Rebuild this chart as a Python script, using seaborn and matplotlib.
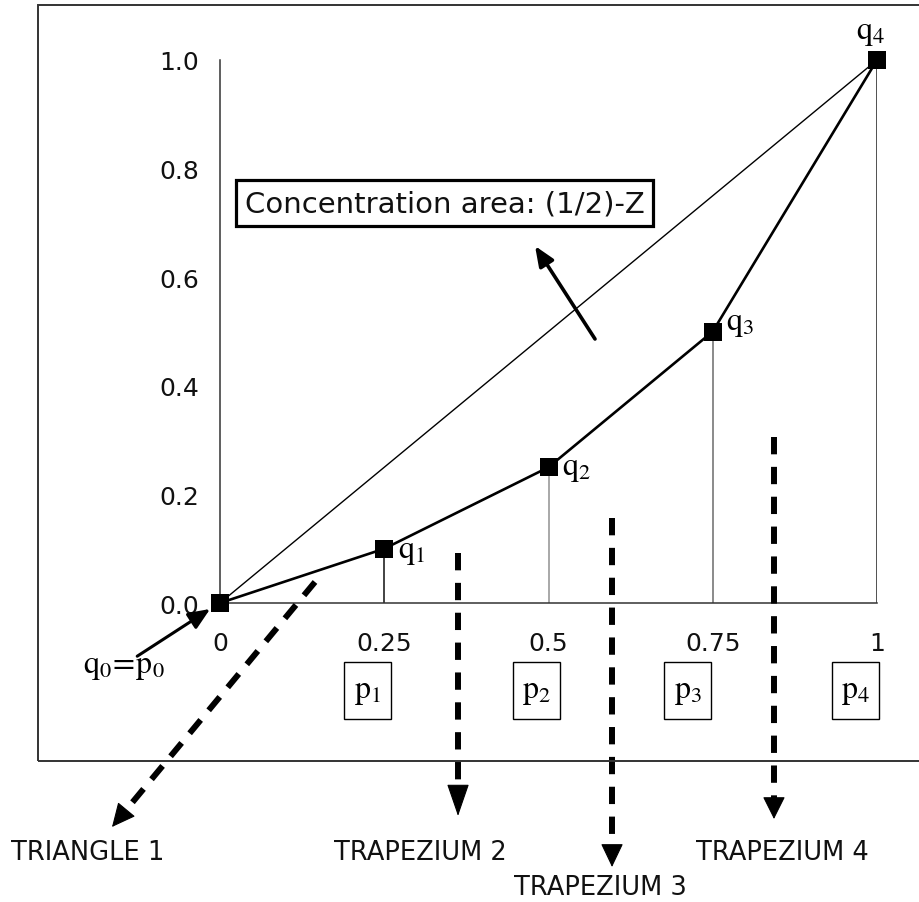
import numpy as np
import pandas as pd
import matplotlib
matplotlib.use("Agg")
import matplotlib.pyplot as plt
import seaborn as sns
from matplotlib.patches import Rectangle

# ---------------- data ----------------
p_cum = [0.0, 0.25, 0.5, 0.75, 1.0]          # cumulative population share
q_cum = [0.0, 0.10, 0.25, 0.50, 1.0]         # cumulative income share
x_ticks = [0.0, 0.25, 0.5, 0.75, 1.0]
x_tick_labels = ["0", "0.25", "0.5", "0.75", "1"]
y_ticks = [0.0, 0.2, 0.4, 0.6, 0.8, 1.0]
y_tick_labels = ["0.0", "0.2", "0.4", "0.6", "0.8", "1.0"]
q_labels = [r"$\mathrm{q}_1$", r"$\mathrm{q}_2$", r"$\mathrm{q}_3$", r"$\mathrm{q}_4$"]
p_labels = [r"$\mathrm{p}_1$", r"$\mathrm{p}_2$", r"$\mathrm{p}_3$", r"$\mathrm{p}_4$"]
origin_label = r"$\mathrm{q}_0\!=\!\mathrm{p}_0$"
area_labels = ["TRIANGLE 1", "TRAPEZIUM 2", "TRAPEZIUM 3", "TRAPEZIUM 4"]
concentration_text = "Concentration area: (1/2)-Z"

# ---------------- style ----------------
sns.set_theme(style="white")
plt.rcParams["font.family"] = ["DejaVu Sans"]
plt.rcParams["mathtext.fontset"] = "stix"

W, H = 919, 903
fig = plt.figure(figsize=(W / 100, H / 100), dpi=100)
fig.patch.set_facecolor("white")

# axes: x=0 at px 220, x=1 at px 877 ; y=0 at px 604, y=1 at px 61
ax = fig.add_axes([220 / W, 1 - 604 / H, 657 / W, 543 / H])
ax.set_facecolor("white")

df = pd.DataFrame({"p": p_cum, "q": q_cum})
eq = pd.DataFrame({"p": [p_cum[0], p_cum[-1]], "q": [p_cum[0], p_cum[-1]]})

# line of equality
sns.lineplot(data=eq, x="p", y="q", ax=ax, color="black", lw=1.0, zorder=3)
# Lorenz curve
sns.lineplot(data=df, x="p", y="q", ax=ax, color="black", lw=1.9,
             marker="s", markersize=12.5, markeredgewidth=0, zorder=6,
             clip_on=False)

# vertical drop lines
drop_colors = ["#222222", "#999999", "#777777", "#333333"]
ax.vlines(p_cum[1:], 0, q_cum[1:], colors=drop_colors, lw=1.2, zorder=2)

ax.set_xlim(0, 1)
ax.set_ylim(0, 1)
ax.set_xlabel("")
ax.set_ylabel("")
ax.set_xticks(x_ticks)
ax.set_xticklabels(x_tick_labels)
ax.set_yticks(y_ticks)
ax.set_yticklabels(y_tick_labels)
ax.tick_params(axis="both", which="both", direction="out", color="#333333",
               width=1.1, labelsize=18, labelcolor="#111111")
ax.tick_params(axis="x", length=6.5, pad=14)
ax.tick_params(axis="y", length=5.8, pad=9)
for s in ["top", "right"]:
    ax.spines[s].set_visible(False)
for s in ["left", "bottom"]:
    ax.spines[s].set_color("#333333")
    ax.spines[s].set_linewidth(1.1)

# q labels next to points (offsets in points)
q_offsets = [(10, -1.5), (9.5, 0), (9.5, 6.5), (-4.5, 20.5)]
q_ha = ["left", "left", "left", "center"]
for x, y, lab, off, ha in zip(p_cum[1:], q_cum[1:], q_labels, q_offsets, q_ha):
    ax.annotate(lab, xy=(x, y), xytext=off, textcoords="offset points",
                ha=ha, va="center", fontsize=23, color="black",
                annotation_clip=False, zorder=7)

# p labels in boxes below the axis
p_box_offsets = [-0.026, -0.019, -0.038, -0.032]
box_w, box_h = 47 / 657, 57 / 543
box_y = -0.162
for x, lab, dx in zip(p_cum[1:], p_labels, p_box_offsets):
    cx = x + dx
    ax.text(cx, box_y, lab, ha="center", va="center", fontsize=23,
            color="black", clip_on=False)
    ax.add_patch(Rectangle((cx - box_w / 2, box_y - box_h / 2), box_w, box_h,
                           fill=False, ec="black", lw=1.0, clip_on=False))

# origin label and arrow
ax.text(-0.146, -0.116, origin_label, ha="center", va="center", fontsize=23,
        color="black", clip_on=False)
ax.annotate("", xy=(-0.015, -0.011), xytext=(-0.126, -0.098),
            arrowprops=dict(arrowstyle="-|>,head_length=1.3,head_width=0.55",
                            color="black", lw=2.2, mutation_scale=10,
                            shrinkA=0, shrinkB=0),
            annotation_clip=False)

# concentration-area box and arrow
ax.text(0.3417, 0.7366, concentration_text, ha="center", va="center",
        fontsize=21, color="#111111",
        bbox=dict(boxstyle="square,pad=0.3", fc="white", ec="black", lw=2.3),
        zorder=8)
ax.annotate("", xy=(0.4795, 0.6575), xytext=(0.5708, 0.4862),
            arrowprops=dict(arrowstyle="-|>,head_length=1.2,head_width=0.5",
                            color="black", lw=2.6, mutation_scale=10,
                            shrinkA=0, shrinkB=0),
            annotation_clip=False, zorder=8)


# dashed arrows towards the area labels
def dashed_arrow(top, tip, head_px, half_w_px):
    t0 = ax.transData.transform(top)
    t1 = ax.transData.transform(tip)
    d = t1 - t0
    u = d / np.hypot(*d)
    base = ax.transData.inverted().transform(t1 - u * head_px)
    ax.plot([top[0], base[0]], [top[1], base[1]], color="black", lw=4.3,
            ls=(0, (2.9, 2.1)), clip_on=False, dash_capstyle="butt", zorder=4)
    ax.annotate("", xy=tip, xytext=base,
                arrowprops=dict(arrowstyle="-|>,head_length=%.3f,head_width=%.3f"
                                % (head_px * 0.72 / 10, half_w_px * 0.72 / 10),
                                color="black", lw=0.8, mutation_scale=10,
                                shrinkA=0, shrinkB=0),
                annotation_clip=False, zorder=4)


arrow_tops = [(0.1446, 0.0387), (0.3623, 0.0921), (0.5967, 0.1565), (0.8432, 0.3057)]
arrow_tips = [(-0.1644, -0.4125), (0.3623, -0.3923), (0.5967, -0.4862), (0.8432, -0.3978)]
head_lengths = [21, 29, 21, 20]
for top, tip, hl in zip(arrow_tops, arrow_tips, head_lengths):
    dashed_arrow(top, tip, hl, 10)

label_pos = [(-0.2009, -0.4586), (0.3052, -0.4586), (0.5791, -0.5230), (0.8554, -0.4586)]
for (lx, ly), lab in zip(label_pos, area_labels):
    ax.text(lx, ly, lab, ha="center", va="center", fontsize=18.5,
            color="#111111", clip_on=False)

# outer frame (right side runs off the canvas)
fig.add_artist(Rectangle((38 / W, 1 - 762 / H), 1.0, (762 - 6) / H,
                         transform=fig.transFigure, fill=False,
                         ec="#333333", lw=1.4))

fig.savefig("out.png", dpi=100)
